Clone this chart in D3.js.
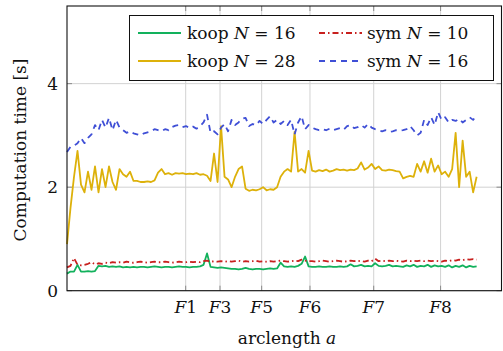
<!DOCTYPE html>
<html>
<head>
<meta charset="utf-8">
<script src="https://cdn.jsdelivr.net/npm/d3@7/dist/d3.min.js"></script>
<style>
  html, body { margin: 0; padding: 0; background: #fff; }
</style>
</head>
<body>
<svg id="chart" width="503" height="351" font-family="'DejaVu Serif', 'Liberation Serif', serif"></svg>
<script>
// samples along the track, one per index; waypoints F1..F8 at fractional indices
const fixLabels = ["F1", "F3", "F5", "F6", "F7", "F8"];
const fixPos = [33.9, 43.7, 55.6, 69.4, 87.6, 106.7];
const yTicks = [0, 2, 4];

const koop16 = [
  0.33, 0.37, 0.37, 0.50, 0.37, 0.37, 0.38, 0.37, 0.38, 0.48,
  0.47, 0.48, 0.46, 0.47, 0.46, 0.47, 0.45, 0.46, 0.45, 0.46,
  0.45, 0.46, 0.46, 0.45, 0.46, 0.47, 0.46, 0.45, 0.46, 0.46,
  0.45, 0.46, 0.47, 0.46, 0.46, 0.45, 0.46, 0.46, 0.47, 0.50,
  0.72, 0.46, 0.45, 0.44, 0.45, 0.44, 0.43, 0.42, 0.42, 0.41,
  0.42, 0.44, 0.42, 0.41, 0.42, 0.42, 0.41, 0.42, 0.43, 0.42,
  0.43, 0.54, 0.47, 0.46, 0.47, 0.46, 0.48, 0.52, 0.66, 0.47,
  0.46, 0.46, 0.47, 0.46, 0.46, 0.47, 0.46, 0.46, 0.47, 0.46,
  0.47, 0.51, 0.47, 0.48, 0.50, 0.47, 0.48, 0.47, 0.53, 0.48,
  0.47, 0.48, 0.50, 0.47, 0.48, 0.47, 0.46, 0.49, 0.47, 0.50,
  0.46, 0.48, 0.47, 0.50, 0.46, 0.49, 0.47, 0.48, 0.46, 0.49,
  0.45, 0.48, 0.46, 0.49, 0.45, 0.48, 0.46, 0.47
];

const koop28 = [
  0.90, 1.60, 2.20, 2.70, 2.05, 1.90, 2.30, 1.95, 2.40, 1.90,
  2.35, 2.00, 2.40, 2.10, 1.95, 2.35, 2.25, 2.20, 2.30, 2.12,
  2.12, 2.10, 2.10, 2.11, 2.10, 2.13, 2.28, 2.35, 2.25, 2.27,
  2.24, 2.27, 2.26, 2.27, 2.25, 2.26, 2.25, 2.27, 2.24, 2.25,
  2.22, 2.12, 2.65, 2.10, 3.18, 2.20, 2.15, 2.00, 2.20, 2.35,
  2.40, 1.97, 1.93, 1.95, 1.94, 1.96, 2.00, 1.94, 1.96, 1.95,
  2.00, 2.20, 2.30, 2.35, 2.30, 3.07, 2.30, 2.35, 2.28, 2.70,
  2.32, 2.30, 2.33, 2.31, 2.34, 2.30, 2.32, 2.35, 2.33, 2.34,
  2.32, 2.34, 2.33, 2.36, 2.48, 2.34, 2.38, 2.45, 2.35, 2.40,
  2.33, 2.32, 2.34, 2.33, 2.31, 2.30, 2.17, 2.20, 2.22, 2.20,
  2.45, 2.30, 2.50, 2.28, 2.55, 2.30, 2.42, 2.25, 2.30, 2.20,
  2.35, 3.05, 2.00, 2.90, 2.20, 2.30, 1.90, 2.20
];

const sym10 = [
  0.45, 0.48, 0.63, 0.50, 0.49, 0.50, 0.52, 0.55, 0.51, 0.53,
  0.52, 0.54, 0.53, 0.55, 0.54, 0.55, 0.54, 0.56, 0.55, 0.54,
  0.55, 0.56, 0.55, 0.54, 0.55, 0.56, 0.55, 0.55, 0.56, 0.55,
  0.54, 0.55, 0.56, 0.55, 0.55, 0.56, 0.55, 0.56, 0.55, 0.57,
  0.58, 0.56, 0.57, 0.56, 0.57, 0.56, 0.57, 0.56, 0.57, 0.58,
  0.56, 0.57, 0.56, 0.57, 0.58, 0.56, 0.57, 0.56, 0.57, 0.56,
  0.57, 0.58, 0.57, 0.56, 0.57, 0.58, 0.57, 0.60, 0.58, 0.57,
  0.57, 0.56, 0.57, 0.58, 0.57, 0.56, 0.57, 0.58, 0.57, 0.56,
  0.57, 0.58, 0.57, 0.58, 0.57, 0.56, 0.58, 0.57, 0.62, 0.57,
  0.58, 0.57, 0.58, 0.57, 0.58, 0.57, 0.56, 0.58, 0.57, 0.58,
  0.57, 0.58, 0.57, 0.58, 0.57, 0.58, 0.57, 0.56, 0.58, 0.57,
  0.59, 0.58, 0.60, 0.59, 0.61, 0.60, 0.61, 0.60
];

const sym16 = [
  2.68, 2.78, 2.80, 2.85, 2.95, 2.85, 2.95, 3.02, 3.20, 3.10,
  3.30, 3.15, 3.34, 3.10, 3.30, 3.15, 3.10, 3.05, 3.08, 3.04,
  3.02, 3.00, 3.04, 3.06, 3.08, 3.12, 3.10, 3.08, 3.12, 3.10,
  3.16, 3.19, 3.20, 3.16, 3.18, 3.14, 3.17, 3.13, 3.18, 3.25,
  3.40, 3.05, 3.08, 3.02, 3.15, 3.22, 3.08, 3.30, 3.20, 3.25,
  3.32, 3.34, 3.18, 3.22, 3.20, 3.28, 3.22, 3.30, 3.37, 3.25,
  3.30, 3.22, 3.28, 3.20, 3.30, 3.02, 3.25, 3.37, 3.12, 3.20,
  3.15, 3.12, 3.10, 3.12, 3.10, 3.13, 3.10, 3.12, 3.14, 3.11,
  3.18, 3.20, 3.14, 3.16, 3.20, 3.15, 3.22, 3.15, 3.12, 3.10,
  3.08, 3.10, 3.07, 3.08, 3.10, 3.09, 3.10, 3.12, 3.18, 3.10,
  3.00, 3.05, 3.30, 3.20, 3.35, 3.20, 3.45, 3.30, 3.35, 3.25,
  3.30, 3.28, 3.32, 3.25, 3.30, 3.35, 3.30, 3.40
];

const series = [
  { name: "koop", n: 16, values: koop16, color: "#12b15c", dash: null },
  { name: "koop", n: 28, values: koop28, color: "#ddb10a", dash: null },
  { name: "sym", n: 10, values: sym10, color: "#c8201e", dash: "6,3,1.5,3" },
  { name: "sym", n: 16, values: sym16, color: "#3f4fd6", dash: "6,5" },
];

const svg = d3.select("#chart");
const plotL = 67, plotR = 501.5, plotT = 6, plotB = 290.7;
const fs = 17;

const x = d3.scaleLinear().domain([0, 124.1]).range([plotL, plotR]);
const y = d3.scaleLinear().domain([0, 5.5]).range([plotB, plotT]);

// grid
const grid = svg.append("g").attr("stroke", "#d2d2d2").attr("stroke-width", 1);
grid.selectAll(".vg").data(fixPos).join("line")
  .attr("x1", d => x(d)).attr("x2", d => x(d))
  .attr("y1", plotT).attr("y2", plotB);
grid.selectAll(".hg").data(yTicks).join("line")
  .attr("x1", plotL).attr("x2", plotR)
  .attr("y1", d => y(d)).attr("y2", d => y(d));

// inner ticks on all four sides
const ticks = svg.append("g").attr("stroke", "#8a8a8a").attr("stroke-width", 1);
fixPos.forEach(p => {
  ticks.append("line").attr("x1", x(p)).attr("x2", x(p)).attr("y1", plotB).attr("y2", plotB - 5);
  ticks.append("line").attr("x1", x(p)).attr("x2", x(p)).attr("y1", plotT).attr("y2", plotT + 5);
});
yTicks.forEach(t => {
  ticks.append("line").attr("x1", plotL).attr("x2", plotL + 5).attr("y1", y(t)).attr("y2", y(t));
  ticks.append("line").attr("x1", plotR).attr("x2", plotR - 5).attr("y1", y(t)).attr("y2", y(t));
});

// series
const line = d3.line().x((d, i) => x(i)).y(d => y(d));
const plot = svg.append("g");
series.forEach(s => {
  plot.append("path")
    .datum(s.values)
    .attr("fill", "none")
    .attr("stroke", s.color)
    .attr("stroke-width", 1.8)
    .attr("stroke-linejoin", "round")
    .attr("stroke-dasharray", s.dash)
    .attr("d", line);
});

// frame
svg.append("rect")
  .attr("x", plotL).attr("y", plotT)
  .attr("width", plotR - plotL).attr("height", plotB - plotT)
  .attr("fill", "none").attr("stroke", "#111").attr("stroke-width", 1.1);

// tick labels
svg.append("g").selectAll("text").data(yTicks).join("text")
  .attr("x", plotL - 9).attr("y", d => y(d)).attr("dy", "0.36em")
  .attr("text-anchor", "end").attr("font-size", fs).attr("fill", "#111")
  .text(d => d);

const xl = svg.append("g").selectAll("text").data(fixLabels).join("text")
  .attr("x", (d, i) => x(fixPos[i])).attr("y", 313)
  .attr("text-anchor", "middle").attr("font-size", fs).attr("fill", "#111");
xl.append("tspan").attr("font-style", "italic").text(d => d[0]);
xl.append("tspan").text(d => d.slice(1));

// axis titles
const xt = svg.append("text").attr("x", 287).attr("y", 344)
  .attr("text-anchor", "middle").attr("font-size", fs).attr("fill", "#111");
xt.append("tspan").text("arclength ");
xt.append("tspan").attr("font-style", "italic").text("a");

svg.append("text")
  .attr("transform", "translate(26,150) rotate(-90)")
  .attr("text-anchor", "middle").attr("font-size", fs).attr("fill", "#111")
  .text("Computation time [s]");

// legend
const lg = svg.append("g");
lg.append("rect").attr("x", 129.5).attr("y", 15.5).attr("width", 364).attr("height", 65)
  .attr("fill", "#fff").attr("stroke", "#111").attr("stroke-width", 1);
const cols = [{ lx: 138, tx: 187 }, { lx: 319, tx: 367 }];
const rows = [33, 61];
series.forEach((s, i) => {
  const c = cols[Math.floor(i / 2)], ry = rows[i % 2];
  lg.append("line").attr("x1", c.lx).attr("x2", c.lx + 43).attr("y1", ry).attr("y2", ry)
    .attr("stroke", s.color).attr("stroke-width", 1.8).attr("stroke-dasharray", s.dash);
  const t = lg.append("text").attr("x", c.tx).attr("y", ry).attr("dy", "0.36em")
    .attr("font-size", fs).attr("fill", "#111");
  t.append("tspan").text(s.name + " ");
  t.append("tspan").attr("font-style", "italic").text("N");
  t.append("tspan").text(" = " + s.n);
});
</script>
</body>
</html>
